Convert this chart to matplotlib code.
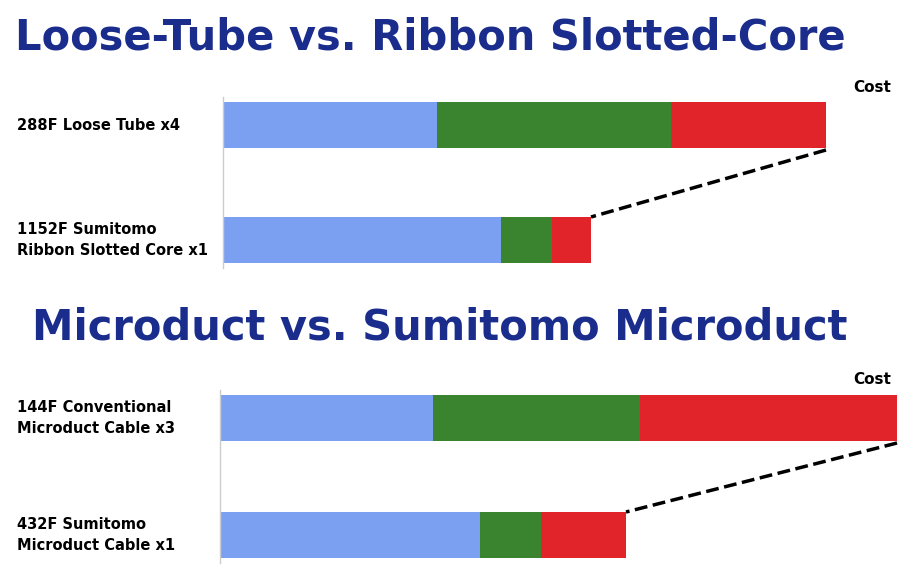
import matplotlib.pyplot as plt

# segment widths (cost components) per cable, in chart units
top_labels = ["288F Loose Tube x4", "1152F Sumitomo\nRibbon Slotted Core x1"]
top_blue = [214, 278]
top_green = [234, 51]
top_red = [155, 39]

bot_labels = ["144F Conventional\nMicroduct Cable x3", "432F Sumitomo\nMicroduct Cable x1"]
bot_blue = [213, 260]
bot_green = [207, 61]
bot_red = [257, 85]

BLUE, GREEN, RED = "#7ba0f2", "#3a8430", "#e0242a"
NAVY = "#1a2d8c"

fig = plt.figure(figsize=(9.16, 5.76), dpi=100)
ax = fig.add_axes([0, 0, 1, 1])
ax.set_xlim(0, 916)
ax.set_ylim(576, 0)
ax.axis("off")


def panel(x0, ys, labels, blue, green, red, title, title_y, title_x, cost_y):
    ax.text(title_x, title_y, title, color=NAVY, fontsize=30, fontweight="bold", va="center")
    ends = []
    for y, lab, b, g, r in zip(ys, labels, blue, green, red):
        ax.barh(y, b, left=x0, height=46, color=BLUE)
        ax.barh(y, g, left=x0 + b, height=46, color=GREEN)
        ax.barh(y, r, left=x0 + b + g, height=46, color=RED)
        ends.append(x0 + b + g + r)
        ax.text(17, y, lab, fontsize=10.5, fontweight="heavy", va="center", ha="left", linespacing=1.5)
    ax.plot([ends[0], ends[1]], [ys[0] + 25, ys[1] - 23], "k--", lw=2.5)
    ax.text(891, cost_y, "Cost", fontsize=11, fontweight="heavy", ha="right", va="center")
    ax.plot([x0, x0], [ys[0] - 28, ys[1] + 28], color="#cccccc", lw=1)


panel(223, [125, 240], top_labels, top_blue, top_green, top_red,
      "Loose-Tube vs. Ribbon Slotted-Core", 38, 15, 87)
panel(220, [418, 535], bot_labels, bot_blue, bot_green, bot_red,
      "Microduct vs. Sumitomo Microduct", 328, 32, 380)

fig.savefig("out.png", dpi=100)
